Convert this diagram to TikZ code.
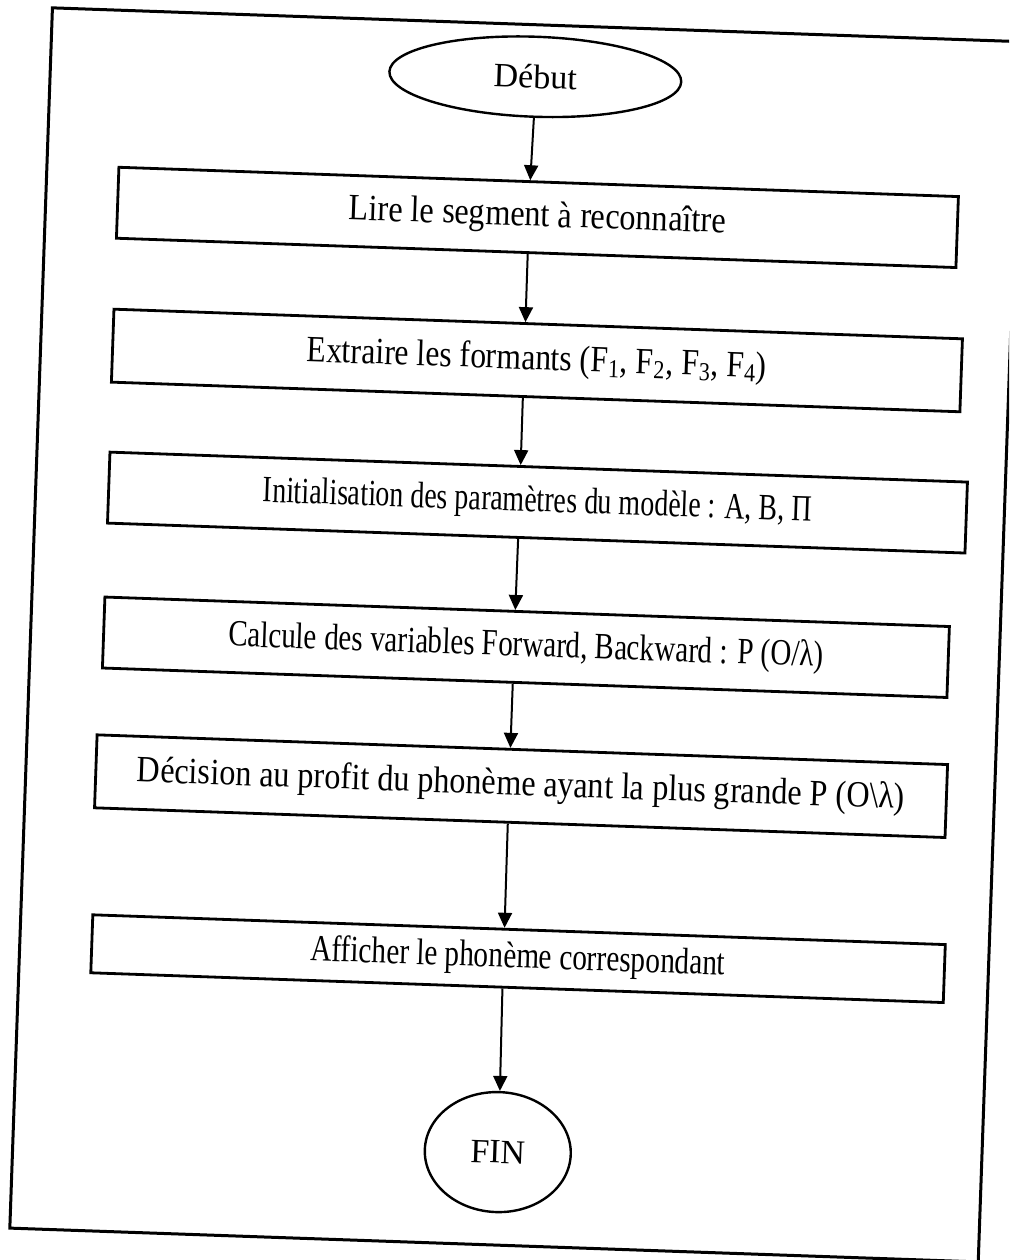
\documentclass[tikz,border=0pt]{standalone}
\usepackage{fontspec}
\usepackage{graphicx}
\setmainfont{Liberation Serif}
\usetikzlibrary{arrows.meta,shapes.geometric,calc}

% texte tasse a une largeur donnee
\newcommand{\ligne}[2]{\resizebox{#1}{\height}{#2}}

\begin{document}
\begin{tikzpicture}[x=0.5pt, y=-0.5pt,
            every node/.style={font=\fontsize{17}{20}\selectfont},
            etape/.style={draw, line width=1.4pt, inner sep=0pt, font=\fontsize{18.5}{22}\selectfont},
            terminal/.style={ellipse, draw, line width=1.2pt, inner sep=0pt},
            fleche/.style={-{Triangle[length=7.5pt,width=7pt]}, line width=1pt},
            cadre/.style={line width=1.5pt}]
            \clip (0,0) rectangle (1009,1260);
            \begin{scope}[rotate around={-2:(504.5,630)}, transform shape]
            \draw[cadre] (31,24) rectangle (1000,1245);

            \node[terminal, minimum width=146pt, minimum height=40pt] (debut) at (516,76) {Début};
            \node[etape, minimum width=420pt, minimum height=35.5pt] (lire) at (523,216.5)
                {\ligne{188.5pt}{Lire le segment à reconnaître}};
            \node[etape, minimum width=424.5pt, minimum height=36.5pt] (extraire) at (527.5,359.5)
                {\ligne{230pt}{Extraire les formants (F\textsubscript{1}, F\textsubscript{2}, F\textsubscript{3}, F\textsubscript{4})}};
            \node[etape, minimum width=429pt, minimum height=35.5pt] (init) at (533,501.5)
                {\ligne{274.5pt}{Initialisation des paramètres du modèle : A, B, Π}};
            \node[etape, minimum width=422.5pt, minimum height=35.5pt] (calcule) at (526.5,646.5)
                {\ligne{297.5pt}{Calcule des variables Forward, Backward : P (O/λ)}};
            \node[etape, minimum width=425.5pt, minimum height=36.5pt] (decision) at (526.5,785.5)
                {\ligne{384pt}{Décision au profit du phonème ayant la plus grande P (O\textbackslash λ)}};
            \node[etape, minimum width=426.5pt, minimum height=29pt] (afficher) at (529.5,958)
                {\ligne{207.5pt}{Afficher le phonème correspondant}};
            \node[terminal, minimum width=73pt, minimum height=60pt] (fin) at (516,1152) {FIN};

            \draw[fleche] (debut.south) -- ($(lire.north west)!0.49!(lire.north east)$);
            \draw[fleche] ($(lire.south west)!0.49!(lire.south east)$) -- ($(extraire.north west)!0.485!(extraire.north east)$);
            \draw[fleche] ($(extraire.south west)!0.485!(extraire.south east)$) -- ($(init.north west)!0.479!(init.north east)$);
            \draw[fleche] ($(init.south west)!0.479!(init.south east)$) -- ($(calcule.north west)!0.486!(calcule.north east)$);
            \draw[fleche] ($(calcule.south west)!0.486!(calcule.south east)$) -- ($(decision.north west)!0.486!(decision.north east)$);
            \draw[fleche] ($(decision.south west)!0.486!(decision.south east)$) -- ($(afficher.north west)!0.483!(afficher.north east)$);
            \draw[fleche] ($(afficher.south west)!0.483!(afficher.south east)$) -- (fin.north);
            \end{scope}
        \end{tikzpicture}
\end{document}
